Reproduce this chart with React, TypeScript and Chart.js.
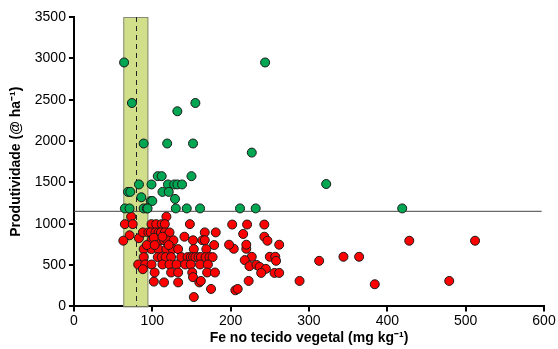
import React, { useEffect, useRef } from "react";
import { Chart, registerables } from "chart.js";

Chart.register(...registerables);

// Productivity above the threshold (green)
const greenFe = [64, 244, 74, 132, 155, 89, 119, 152, 227, 107, 112, 150, 83, 99, 120, 128, 132, 138, 322, 69, 72, 113, 121, 86, 98, 100, 129, 65, 71, 89, 93, 94, 130, 144, 161, 212, 232, 419];
const greenProd = [2950, 2950, 2460, 2360, 2460, 1970, 1970, 1970, 1860, 1575, 1575, 1575, 1475, 1475, 1475, 1475, 1475, 1475, 1480, 1385, 1385, 1385, 1385, 1320, 1275, 1275, 1300, 1185, 1185, 1185, 1185, 1185, 1185, 1185, 1185, 1185, 1185, 1185];

// Productivity below the threshold (red)
const redFe = [
  118, 73,
  65, 75, 99, 105, 112, 116, 148, 202, 221, 243,
  71, 63, 83,
  88, 95, 98, 104, 108, 111, 116, 122, 167, 181, 216,
  99, 105, 110, 115, 119, 127, 152, 164, 167, 243, 247,
  141, 102, 113,
  89, 99, 108, 118, 126, 133, 153, 169, 204, 220,
  93, 103, 121, 179, 198, 220, 262,
  89, 107, 112, 117, 124, 137, 145, 149, 152, 155, 159, 162, 168, 173, 177, 227, 250, 257, 258, 218,
  82, 91, 99, 113, 122, 131, 142, 149, 161, 171, 224, 233, 237, 245,
  88,
  103, 124, 133, 151, 170, 180, 239, 256, 262,
  152,
  102, 115, 133, 160, 162, 223,
  175, 206, 209,
  153,
  313, 344, 364, 428, 512, 288, 384, 479,
];
const redProd = [
  1085, 1085,
  995, 995, 995, 995, 995, 995, 995, 990, 990, 990,
  860, 795, 825,
  895, 895, 895, 895, 895, 895, 895, 895, 895, 895, 876,
  800, 800, 800, 800, 800, 800, 800, 800, 800, 843, 794,
  843, 830, 843,
  693, 693, 693, 693, 693, 693, 693, 693, 697, 697,
  742, 742, 742, 742, 746, 746, 746,
  596, 596, 596, 596, 596, 596, 596, 596, 596, 596, 596, 596, 596, 596, 596, 600, 600, 600, 551, 560,
  507, 507, 507, 507, 507, 507, 507, 507, 507, 507, 487, 502, 478, 454,
  450,
  410, 410, 410, 410, 410, 410, 405, 405, 405,
  353,
  300, 290, 290, 290, 308, 308,
  211, 195, 211,
  113,
  551, 600, 600, 794, 794, 308, 268, 308,
];

const thresholdProd = 1150;
const bandFe = [63, 95];
const optimumFe = 79;

const xTicks = [0, 100, 200, 300, 400, 500, 600];
const yTicks = [0, 500, 1000, 1500, 2000, 2500, 3000, 3500];

const bandPlugin = {
  id: "band",
  beforeDatasetsDraw(chart: any) {
    const { ctx, scales } = chart;
    const x = scales.x;
    const y = scales.y;
    const x0 = x.getPixelForValue(bandFe[0]);
    const x1 = x.getPixelForValue(bandFe[1]);
    const yt = y.getPixelForValue(yTicks[yTicks.length - 1]);
    const yb = y.getPixelForValue(0);
    ctx.save();
    ctx.fillStyle = "#d1df8a";
    ctx.fillRect(x0, yt, x1 - x0, yb - yt);
    ctx.strokeStyle = "#8a8a7a";
    ctx.lineWidth = 1;
    ctx.strokeRect(x0 + 0.5, yt + 0.5, x1 - x0 - 1, yb - yt);
    const xm = Math.round(x.getPixelForValue(optimumFe)) + 0.5;
    ctx.strokeStyle = "#222";
    ctx.setLineDash([5, 4]);
    ctx.beginPath();
    ctx.moveTo(xm, yt);
    ctx.lineTo(xm, yb);
    ctx.stroke();
    ctx.restore();
  },
};

export default function App() {
  const ref = useRef<HTMLCanvasElement>(null);
  useEffect(() => {
    if (!ref.current) return;
    const green = greenFe.map((x, i) => ({ x, y: greenProd[i] }));
    const red = redFe.map((x, i) => ({ x, y: redProd[i] }));
    const chart = new Chart(ref.current, {
      type: "scatter",
      data: {
        datasets: [
          {
            label: "limiar",
            type: "line",
            data: [
              { x: 0, y: thresholdProd },
              { x: 597, y: thresholdProd },
            ],
            borderColor: "#444",
            borderWidth: 1,
            pointRadius: 0,
            order: 3,
          } as any,
          {
            label: "acima",
            data: green,
            backgroundColor: "#00a651",
            borderColor: "#1a1a1a",
            borderWidth: 1,
            pointRadius: 4.5,
            order: 1,
          },
          {
            label: "abaixo",
            data: red,
            backgroundColor: "#ff0000",
            borderColor: "#1a1a1a",
            borderWidth: 1,
            pointRadius: 4.5,
            order: 2,
          },
        ],
      },
      options: {
        animation: false,
        responsive: false,
        maintainAspectRatio: false,
        layout: { padding: { left: 8, right: 14, top: 17, bottom: 2 } },
        plugins: { legend: { display: false }, tooltip: { enabled: false } },
        scales: {
          x: {
            type: "linear",
            min: 0,
            max: 600,
            afterBuildTicks: (s: any) => {
              s.ticks = xTicks.map((v) => ({ value: v }));
            },
            ticks: {
              color: "#000",
              font: { family: "Liberation Sans", size: 14 },
              padding: 1,
              callback: (v: any) => String(v),
            },
            grid: { drawOnChartArea: false, drawTicks: true, tickLength: 5, color: "#000", lineWidth: 2 },
            border: { color: "#000", width: 2 },
            title: {
              display: true,
              text: "Fe no tecido vegetal (mg kg⁻¹)",
              color: "#000",
              font: { family: "Liberation Sans", size: 14, weight: "bold" },
              padding: { top: 0, bottom: 0 },
            },
          },
          y: {
            type: "linear",
            min: 0,
            max: 3500,
            afterBuildTicks: (s: any) => {
              s.ticks = yTicks.map((v) => ({ value: v }));
            },
            ticks: {
              color: "#000",
              font: { family: "Liberation Sans", size: 14 },
              padding: 3,
              callback: (v: any) => String(v),
            },
            grid: { drawOnChartArea: false, drawTicks: true, tickLength: 5, color: "#000", lineWidth: 2 },
            border: { color: "#000", width: 2 },
            title: {
              display: true,
              text: "Produtividade (@ ha⁻¹)",
              color: "#000",
              font: { family: "Liberation Sans", size: 14, weight: "bold" },
              padding: { top: 0, bottom: 7 },
            },
          },
        },
      },
      plugins: [bandPlugin],
    });
    return () => chart.destroy();
  }, []);
  return (
    <div style={{ position: "fixed", left: 0, top: 0, width: 558, height: 349, background: "#fff" }}>
      <canvas ref={ref} width={558} height={349} style={{ width: 558, height: 349 }} />
    </div>
  );
}
